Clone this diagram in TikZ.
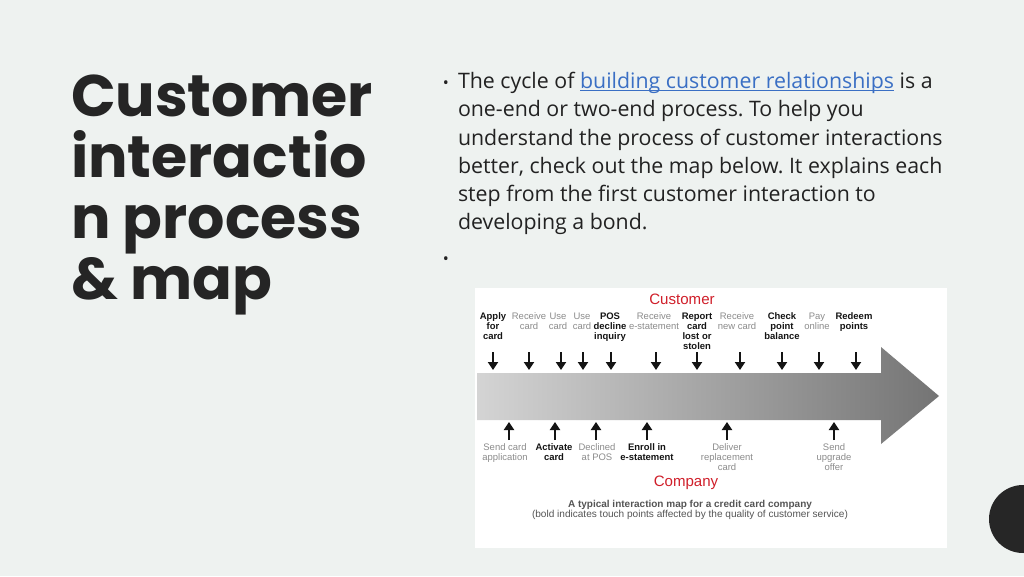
\documentclass[tikz,border=0pt]{standalone}
\usepackage{fontspec}
\setmainfont{Open Sans}
\newfontfamily\popp{Poppins}
\newfontfamily\arial{Liberation Sans}
\usetikzlibrary{arrows.meta}
\frenchspacing
\definecolor{bg}{HTML}{EEF2F0}
\definecolor{ink}{HTML}{222222}
\definecolor{titleink}{HTML}{252525}
\definecolor{linkblue}{HTML}{3A6FC4}
\definecolor{mapred}{HTML}{D01F2A}
\definecolor{mapgray}{HTML}{8C8C8C}
\definecolor{mapblack}{HTML}{141414}
\definecolor{capgray}{HTML}{555555}
\definecolor{dot}{HTML}{262626}
\tikzset{
  every node/.style={inner sep=0pt, outer sep=0pt},
  titleline/.style={anchor=base west, text=titleink, font=\popp\bfseries\fontsize{44}{61}\selectfont},
  bodyline/.style={anchor=base west, text=ink, font=\fontsize{16}{21}\selectfont\frenchspacing},
  bulletmark/.style={anchor=base, text=ink, font=\fontsize{12}{14}\selectfont},
  lb/.style={anchor=north, align=center, text=mapblack, font=\arial\bfseries\fontsize{7.1}{7.5}\selectfont},
  lg/.style={anchor=north, align=center, text=mapgray, font=\arial\fontsize{7.1}{7.5}\selectfont},
  redhead/.style={anchor=base, text=mapred, font=\arial\fontsize{11.3}{13}\selectfont},
  tickarrow/.style={line width=2.2pt, -{Triangle[length=6pt, width=7.5pt]}, mapblack},
}
\begin{document}
\begin{tikzpicture}[x=0.75pt,y=-0.75pt]
\useasboundingbox (0,0) rectangle (1024,576);
\fill[bg] (0,0) rectangle (1024,576);
% corner dot
\fill[dot] (1023,519) circle (25.5pt);
% title
\node[titleline] (t1) at (71,116) {Customer};
\node[titleline] (t2) at (71,177) {interactio};
\node[titleline] (t3) at (71,238) {n process};
\node[titleline] (t4) at (71,299) {\& map};
% body text
\node[bulletmark] (b1) at (446,88) {•};
\node[bodyline] (l1a) at (458,88) {The cycle of};
\node[bodyline, text=linkblue] (link) at ([xshift=4.2pt]l1a.base east) {building customer relationships};
\node[bodyline] (l1c) at ([xshift=4.2pt]link.base east) {is a};
\draw[linkblue, line width=0.75pt] ([yshift=-2.2pt]link.base west) -- ([yshift=-2.2pt]link.base east);
\node[bodyline] (l2) at (458,116) {one-end or two-end process. To help you};
\node[bodyline] (l3) at (458,145) {understand the process of customer interactions};
\node[bodyline] (l4) at (458,173) {better, check out the map below. It explains each};
\node[bodyline] (l5) at (458,201) {step from the first customer interaction to};
\node[bodyline] (l6) at (458,229) {developing a bond.};
\node[bulletmark] (b2) at (446,264) {•};
% map panel
\fill[white] (475,288) rectangle (947,548);
\shade[left color={rgb,255:red,212;green,212;blue,212}, right color={rgb,255:red,116;green,116;blue,116}]
  (477,373) -- (881,373) -- (881,347) -- (939,396) -- (881,444) -- (881,420) -- (477,420) -- cycle;
\node[redhead] (cust) at (682,304) {Customer};
\node[redhead] (comp) at (686,486) {Company};
% customer steps
\foreach \i/\x/\lx/\st/\txt in {
  1/493/493/lb/{Apply\\for\\card},
  2/529/529/lg/{Receive\\card},
  3/561/558/lg/{Use\\card},
  4/583/582/lg/{Use\\card},
  5/611/610/lb/{POS\\decline\\inquiry},
  6/656/654/lg/{Receive\\e-statement},
  7/697/697/lb/{Report\\card\\lost or\\stolen},
  8/740/737/lg/{Receive\\new card},
  9/782/782/lb/{Check\\point\\balance},
  10/819/817/lg/{Pay\\online},
  11/856/854/lb/{Redeem\\points}} {
  \node[\st] (c\i) at (\lx,313) {\txt};
  \coordinate (cs\i) at (\x,352);
  \coordinate (ce\i) at (\x,370);
  \draw[tickarrow] (cs\i) -- (ce\i);
}
% company steps
\foreach \i/\x/\lx/\st/\txt in {
  1/509/505/lg/{Send card\\application},
  2/555/554/lb/{Activate\\card},
  3/596/597/lg/{Declined\\at POS},
  4/647/647/lb/{Enroll in\\e-statement},
  5/727/727/lg/{Deliver\\replacement\\card},
  6/834/834/lg/{Send\\upgrade\\offer}} {
  \node[\st] (p\i) at (\lx,444) {\txt};
  \coordinate (ps\i) at (\x,440);
  \coordinate (pe\i) at (\x,422);
  \draw[tickarrow] (ps\i) -- (pe\i);
}
% caption
\node[anchor=base, text=capgray, font=\arial\bfseries\fontsize{7.5}{9}\selectfont] (cap1) at (690,507) {A typical interaction map for a credit card company};
\node[anchor=base, text=capgray, font=\arial\fontsize{7.55}{9}\selectfont] (cap2) at (690,517) {(bold indicates touch points affected by the quality of customer service)};
\end{tikzpicture}
\end{document}
